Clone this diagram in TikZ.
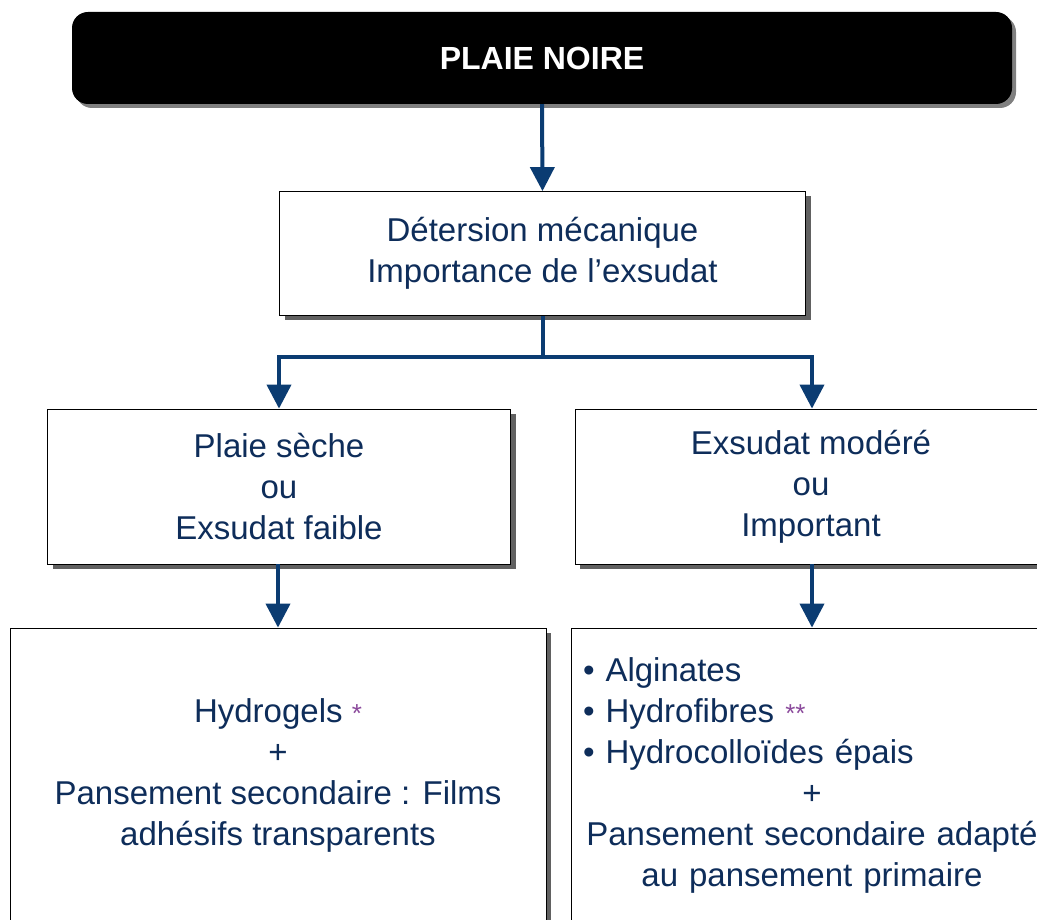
\documentclass[tikz,border=0pt]{standalone}
\usepackage{fontspec}
\setmainfont{Liberation Sans}
\usetikzlibrary{arrows.meta,shadows}
\definecolor{navytext}{HTML}{0E2D5A}
\definecolor{navyline}{HTML}{0B3C72}
\definecolor{astpurple}{HTML}{8B4A9C}
\tikzset{
  box/.style={draw=black, line width=0.8pt, fill=white, text=navytext,
    font=\fontsize{33}{41}\selectfont, align=center, inner sep=0pt,
    drop shadow={shadow xshift=5pt, shadow yshift=-5pt, fill=black!62, opacity=1}},
  titlebox/.style={fill=black, rounded corners=16pt, text=white,
    font=\fontsize{32}{38}\selectfont\bfseries,
    drop shadow={shadow xshift=4pt, shadow yshift=-4pt, fill=black!50, opacity=1}},
  flow/.style={draw=navyline, line width=4pt, -{Triangle[width=24pt,length=24pt]}},
  trunk/.style={draw=navyline, line width=4pt}
}
\newcommand{\starmark}[1]{\textcolor{astpurple}{\fontsize{26}{26}\selectfont #1}}
\begin{document}
\begin{tikzpicture}[x=1pt,y=-1pt]
    \clip (0,0) rectangle (1037,920);
    \fill[white] (0,0) rectangle (1037,920);

    \node[titlebox, minimum width=940pt, minimum height=92pt] (noire) at (542,58) {PLAIE NOIRE};
    \node[box, minimum width=526pt, minimum height=124pt] (det) at (542.5,253.5)
        {Détersion mécanique\\Importance de l’exsudat};
    \node[box, minimum width=463pt, minimum height=155pt] (seche) at (279,486.5)
        {Plaie sèche\\ou\\Exsudat faible};
    \node[box, minimum width=472pt, minimum height=155pt] (modere) at (811,486.5)
        {Exsudat modéré\\ou\\Important};
    \node[box, minimum width=536pt, minimum height=294pt] (hydrogel) at (278,775)
        {Hydrogels \starmark{*}\\+\\Pansement secondaire : Films\\adhésifs transparents};
    \node[box, minimum width=482pt, minimum height=294pt, text width=458pt, inner xsep=12pt,
        align=left] (alginate) at (812,775)
        {• Alginates\\• Hydrofibres \starmark{**}\\• Hydrocolloïdes épais\par
         \centering +\\Pansement secondaire adapté\\au pansement primaire\par};

    \coordinate (split) at (542.5,357);
    \draw[flow] (noire.south) -- (det.north);
    \draw[trunk] (det.south) -- (split);
    \draw[flow] (split) -| (seche.north);
    \draw[flow] (split) -| (modere.north -| alginate.north);
    \draw[flow] (seche.south -| hydrogel.north) -- (hydrogel.north);
    \draw[flow] (modere.south -| alginate.north) -- (alginate.north);
\end{tikzpicture}
\end{document}
